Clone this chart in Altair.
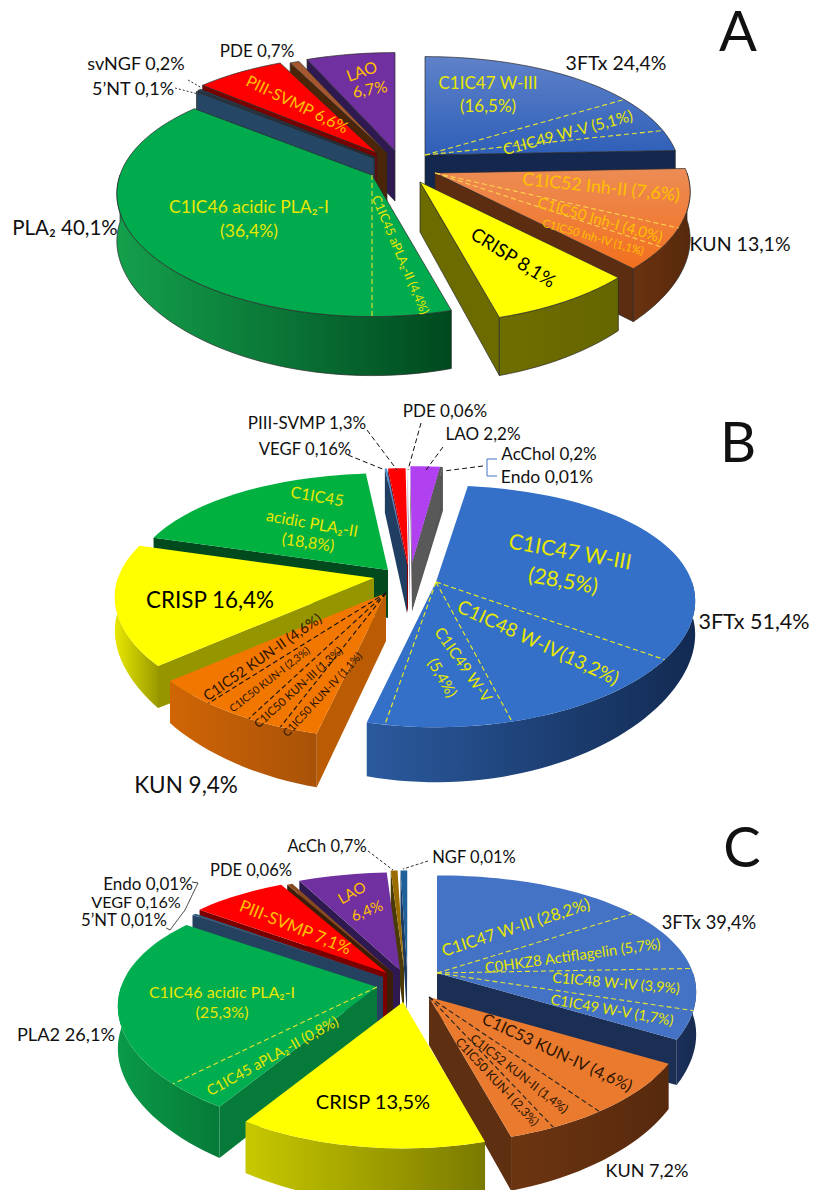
import math
import altair as alt
import pandas as pd

# ---- slice names and their shares (percent of the full turn)
A_NAMES = ["3FTx", "KUN", "CRISP", "PLA", "NT", "NGF", "PIII", "PDE", "LAO"]
A_SHARES = [[16.5, 5.1, 2.8], [7.6, 2.5, 3.0], [8.1], [4.4, 35.7], [0.1], [0.2], [6.6], [0.7], [6.7]]
B_NAMES = ["3FTx", "KUN", "CRISP", "PLA", "VEGF", "PIII", "PDE", "LAO", "ACH"]
B_SHARES = [[32.4, 11.1, 6.9, 1.0], [2.08, 1.94, 2.78, 3.3], [15.7], [18.8], [0.16], [1.3], [0.06], [2.2], [0.21]]
C_NAMES = ["3FTx", "KUN", "CRISP", "PLA", "NT", "PIII", "PDE", "LAO", "ACC", "NGF"]
C_SHARES = [[15.8, 8.6, 5.3, 3.6], [6.67, 3.05, 2.5], [13.6], [3.6, 22.0], [0.3], [7.0], [0.4], [6.6], [0.5], [0.5]]

# ---- layout
A_APEX = {"3FTx": (425, 155), "KUN": (435, 173), "CRISP": (420, 182), "PLA": (372, 175), "NT": (374, 158),
          "NGF": (375, 157), "PIII": (377, 153), "PDE": (387, 153), "LAO": (395, 151)}
B_APEX = {"3FTx": (436, 582), "KUN": (386, 593), "CRISP": (374, 578), "PLA": (388, 570), "VEGF": (407, 565),
          "PIII": (408, 565), "PDE": (410, 564), "LAO": (412, 563), "ACH": (412, 563)}
C_APEX = {"3FTx": (437, 973), "KUN": (429, 997), "CRISP": (403, 1002), "PLA": (377, 987), "NT": (383, 977),
          "PIII": (387, 973), "PDE": (393, 973), "LAO": (400, 970), "ACC": (404, 968), "NGF": (407, 968)}
A_ORDER = ["LAO", "PDE", "PIII", "NGF", "NT", "PLA", "3FTx", "KUN", "CRISP"]
B_ORDER = ["ACH", "LAO", "PDE", "PIII", "VEGF", "PLA", "CRISP", "KUN", "3FTx"]
C_ORDER = ["NGF", "ACC", "LAO", "PDE", "PIII", "NT", "PLA", "3FTx", "KUN", "CRISP"]

# start, R, Ry, kx, ky, D side, D front, D back, D apex, outline
A_SHAPE = (0.0, 252, 120, 0.16, 0.18, 47, 59, 50, 50, True)
B_SHAPE = (8.5, 256, 121, 0.16, 0.20, 33, 55, 44, 48, False)
C_SHAPE = (0.0, 256, 122, 0.16, 0.20, 42, 55, 45, 48, False)

def hgrad(a, b):
    return {"gradient": "linear", "x1": 0, "x2": 1, "y1": 0, "y2": 0,
            "stops": [{"offset": 0, "color": a}, {"offset": 1, "color": b}]}

def vgrad(a, b):
    return {"gradient": "linear", "x1": 0, "x2": 0, "y1": 0, "y2": 1,
            "stops": [{"offset": 0, "color": a}, {"offset": 1, "color": b}]}

# top, rim, cut face, divider colour
A_STYLE = {
    "3FTx": (vgrad("#5f82c9", "#2f5fb8"), hgrad("#1c3564", "#12264c"), "#14284f", "#e6e633"),
    "KUN": (vgrad("#ec8c55", "#f2701f"), hgrad("#6a3210", "#57290c"), "#5c2d10", "#ffd24d"),
    "CRISP": ("#ffff00", hgrad("#6e6e00", "#666600"), "#6b6b00", "#000000"),
    "PLA": ("#00ab4e", hgrad("#14a04c", "#00491f"), "#00491f", "#e6e633"),
    "NT": ("#2a4a6c", "#22405f", "#264665", "#000000"),
    "NGF": ("#2a4a6c", "#22405f", "#264665", "#000000"),
    "PIII": ("#ff0000", "#7a0000", "#7a0000", "#000000"),
    "PDE": ("#a5572f", "#4a2508", "#4a2508", "#000000"),
    "LAO": ("#7030a0", "#2e1a50", "#2e1a50", "#000000"),
}
B_STYLE = {
    "3FTx": ("#3470c8", hgrad("#2b5a9e", "#122a52"), "#1a3a6c", "#f0f020"),
    "KUN": ("#f27700", hgrad("#d06505", "#a85208"), "#bb5c05", "#111111"),
    "CRISP": ("#ffff00", hgrad("#e8e800", "#9a9a00"), "#959500", "#000000"),
    "PLA": ("#00b140", "#004a1d", "#004a1d", "#000000"),
    "VEGF": ("#4a90d0", "#1f3e62", "#1f3e62", "#000000"),
    "PIII": ("#ff0000", "#8a0000", "#8a0000", "#000000"),
    "PDE": ("#f4f4f4", "#b090c0", "#b090c0", "#000000"),
    "LAO": ("#b040f0", "#595959", "#595959", "#000000"),
    "ACH": ("#595959", "#555555", "#555555", "#000000"),
}
C_STYLE = {
    "3FTx": ("#4472c4", hgrad("#1b3059", "#182b50"), "#1b2f55", "#e6e633"),
    "KUN": ("#ea7a2e", hgrad("#6c3511", "#57290d"), "#5e2f10", "#222222"),
    "CRISP": ("#ffff00", hgrad("#c8c800", "#7a7a00"), "#909000", "#000000"),
    "PLA": ("#00ad4f", hgrad("#0a9a48", "#067a38"), "#067a38", "#e6e633"),
    "NT": ("#2f5f80", "#24425f", "#24425f", "#000000"),
    "PIII": ("#ff0000", "#7a0000", "#7a0000", "#000000"),
    "PDE": ("#8a4a20", "#3c1e08", "#3c1e08", "#000000"),
    "LAO": ("#7030a0", "#2e1a50", "#2e1a50", "#000000"),
    "ACC": ("#9a6c00", "#4a3a08", "#4a3a08", "#000000"),
    "NGF": ("#1f6098", "#1c3a60", "#1c3a60", "#000000"),
}

# ---- text: text, x, y, size, angle, colour
YEL = "#e8e800"
GLD = "#ffc000"
BLK = "#111111"
DRK = "#2a1400"
A_TEXT = [
    ("A", 738, 34, 56, 0, BLK), ("3FTx 24,4%", 616, 64, 19.5, 0, BLK), ("KUN 13,1%", 740, 245, 19.5, 0, BLK),
    ("PLA₂ 40,1%", 65, 229, 20.5, 0, BLK), ("svNGF 0,2%", 136, 65, 18, 0, BLK), ("5’NT 0,1%", 133, 90, 18, 0, BLK),
    ("PDE 0,7%", 257, 52, 17, 0, BLK), ("PIII-SVMP  6,6%", 297, 105, 16, 26, GLD), ("LAO", 362, 72, 16, -20, GLD),
    ("6,7%", 370, 90, 16, -10, GLD), ("C1IC46 acidic PLA₂-I", 249, 208, 17.5, 0, YEL), ("(36,4%)", 249, 232, 17.5, 0, YEL),
    ("C1IC45 aPLA₂-II (4,4%)", 400, 255, 12.6, 67, YEL), ("C1IC47 W-III", 488, 84, 17, 0, YEL), ("(16,5%)", 488, 107, 17, 0, YEL),
    ("C1IC49 W-V (5,1%)", 568, 133, 15.6, -15, YEL), ("C1IC52 Inh-II (7,6%)", 601, 188, 17.8, 6, GLD),
    ("C1IC50 Inh-I (4,0%)", 600, 220, 15, 16, GLD), ("C1IC50 Inh-IV (1,1%)", 593, 238, 11.3, 16, GLD),
    ("CRISP 8,1%", 513, 258, 18.7, 32, "#000000"),
]
B_TEXT = [
    ("B", 738, 445, 56, 0, BLK), ("PIII-SVMP 1,3%", 307, 424, 17, 0, BLK), ("VEGF 0,16%", 305, 450, 16.7, 0, BLK),
    ("PDE 0,06%", 445, 412, 17, 0, BLK), ("LAO 2,2%", 483, 435, 17, 0, BLK), ("AcChol 0,2%", 549, 455, 17, 0, BLK),
    ("Endo 0,01%", 547, 478, 17.5, 0, BLK), ("3FTx 51,4%", 754, 623, 21.5, 0, BLK), ("KUN 9,4%", 186, 786, 22.5, 0, BLK),
    ("CRISP 16,4%", 210, 601, 22.4, 0, "#000000"), ("C1IC45", 317, 497, 16, 10, YEL), ("acidic PLA₂-II", 312, 524, 16, 10, YEL),
    ("(18,8%)", 308, 543, 16, 8, YEL), ("C1IC47 W-III", 570, 553, 21.3, 10, YEL), ("(28,5%)", 563, 582, 21.3, 10, YEL),
    ("C1IC48 W-IV(13,2%)", 538, 643, 19, 25, YEL), ("C1IC49 W-V", 463, 665, 15.5, 55, YEL), ("(5,4%)", 442, 678, 15.5, 60, YEL),
    ("C1IC52 KUN-II (4,6%)", 263, 658, 14.5, -35, DRK), ("C1IC50 KUN-I (2,3%)", 270, 680, 10.5, -38, DRK),
    ("C1IC50 KUN-III (1,3%)", 299, 688, 11.5, -42, DRK), ("C1IC50 KUN-IV (1,1%)", 323, 695, 11, -47, DRK),
]
C_TEXT = [
    ("C", 742, 850, 56, 0, BLK), ("AcCh 0,7%", 327, 847, 16.5, 0, BLK), ("NGF 0,01%", 474, 858, 16.5, 0, BLK),
    ("PDE 0,06%", 251, 871, 16.5, 0, BLK), ("Endo 0,01%", 148, 885, 17, 0, BLK), ("VEGF 0,16%", 136, 903, 16.2, 0, BLK),
    ("5’NT 0,01%", 124, 921, 16.7, 0, BLK), ("3FTx 39,4%", 709, 924, 18.3, 0, BLK), ("PLA2 26,1%", 66, 1036, 18.2, 0, BLK),
    ("KUN 7,2%", 647, 1172, 18, 0, BLK), ("CRISP 13,5%", 373, 1103, 20, 0, "#000000"),
    ("PIII-SVMP  7,1%", 295, 928, 17, 22, GLD), ("LAO", 352, 893, 15, -30, GLD), ("6,4%", 367, 911, 15, -22, GLD),
    ("C1IC46 acidic PLA₂-I", 222, 993, 16, 0, YEL), ("(25,3%)", 222, 1013, 16, 0, YEL),
    ("C1IC45 aPLA₂-II (0,8%)", 273, 1057, 14.6, -29, YEL), ("C1IC47 W-III (28,2%)", 516, 928, 16.5, -18, YEL),
    ("C0HKZ8 Actiflagelin (5,7%)", 573, 957, 14.8, -8, YEL), ("C1IC48 W-IV (3,9%)", 616, 984, 14.4, 5, YEL),
    ("C1IC49 W-V (1,7%)", 612, 1011, 14.5, 10, YEL), ("C1IC53 KUN-IV (4,6%)", 557, 1053, 16.3, 25, DRK),
    ("C1IC52 KUN-II (1,4%)", 519, 1074, 12.4, 38, DRK), ("C1IC50 KUN-I (2,3%)", 497, 1082, 12.3, 47, DRK),
]

# leader lines and brackets: points, colour, dash
LEADERS = [
    ([(188, 80), (202, 88)], "#333333", [2, 2]), ([(175, 88), (202, 95)], "#333333", [2, 2]),
    ([(367, 430), (397, 470)], "#111111", [5, 3]), ([(348, 455), (385, 470)], "#111111", [5, 3]),
    ([(421, 423), (408, 470)], "#111111", [5, 3]), ([(443, 447), (426, 470)], "#111111", [5, 3]),
    ([(483, 466), (444, 471)], "#111111", [5, 3]),
    ([(497, 459), (487, 459), (487, 476), (497, 476)], "#4472c4", [1, 0]),
    ([(368, 851), (393, 870)], "#333333", [3, 2]), ([(428, 861), (403, 869)], "#333333", [3, 2]),
    ([(192, 882), (198, 883), (185, 910), (170, 930), (166, 928)], "#333333", [1, 0]),
]

X = alt.X("x:Q", scale=alt.Scale(domain=[8, 811], nice=False, zero=False), axis=None)
Y = alt.Y("y:Q", scale=alt.Scale(domain=[8, 1190], nice=False, zero=False, reverse=True), axis=None)
layers = []


def poly(points, fill, stroke=None):
    pts = list(points) + [points[0]]
    df = pd.DataFrame({"x": [p[0] for p in pts], "y": [p[1] for p in pts], "i": range(len(pts))})
    kw = {"fill": fill, "stroke": stroke or "transparent", "strokeWidth": 0.7 if stroke else 0}
    layers.append(alt.Chart(df).mark_line(interpolate="linear", **kw).encode(x=X, y=Y, order="i:Q"))


def polyline(points, color, dash, width=1.1):
    df = pd.DataFrame({"x": [p[0] for p in points], "y": [p[1] for p in points], "i": range(len(points))})
    layers.append(alt.Chart(df).mark_line(color=color, strokeDash=dash, strokeWidth=width).encode(x=X, y=Y, order="i:Q"))


def draw_pie(names, shares, apexes, order, shape, style):
    start, R, Ry, kx, ky, d0, df_, db, da, outline = shape
    line = "#2a2a2a" if outline else None

    def at(apex, deg, drop=False):
        t = math.radians(deg)
        u, v = math.sin(t), -math.cos(t)
        x = apex[0] + R * u * (1 + kx * v)
        y = apex[1] + Ry * v * (1 + ky * v)
        if drop:
            y += d0 + ((df_ if v > 0 else db) - d0) * v * v
        return (x, y)

    spans = {}
    a = start
    for n, s in zip(names, shares):
        sweep = [a]
        for part in s:
            a += part * 3.6
            sweep.append(a)
        spans[n] = sweep

    for n in order:
        sweep = spans[n]
        s, e = sweep[0], sweep[-1]
        ap = apexes[n]
        low = (ap[0], ap[1] + da)
        top, rim, face, div = style[n]
        if math.sin(math.radians(e)) > 0:
            poly([ap, at(ap, e), at(ap, e, True), low], face, line)
        if math.sin(math.radians(s)) < 0:
            poly([ap, at(ap, s), at(ap, s, True), low], face, line)
        lo, hi = max(s, 90), min(e, 270)
        if hi > lo:
            steps = max(2, int((hi - lo) / 2))
            degs = [lo + (hi - lo) * k / steps for k in range(steps + 1)]
            poly([at(ap, d) for d in degs] + [at(ap, d, True) for d in reversed(degs)], rim, line)
        steps = max(2, int((e - s) / 2))
        degs = [s + (e - s) * k / steps for k in range(steps + 1)]
        poly([ap] + [at(ap, d) for d in degs], top, line)
        for d in sweep[1:-1]:
            polyline([ap, at(ap, d)], div, [5, 3])


draw_pie(A_NAMES, A_SHARES, A_APEX, A_ORDER, A_SHAPE, A_STYLE)
draw_pie(B_NAMES, B_SHARES, B_APEX, B_ORDER, B_SHAPE, B_STYLE)
draw_pie(C_NAMES, C_SHARES, C_APEX, C_ORDER, C_SHAPE, C_STYLE)

for pts, col, dash in LEADERS:
    polyline(pts, col, dash, 1.0)

texts = pd.DataFrame(A_TEXT + B_TEXT + C_TEXT, columns=["t", "x", "y", "s", "a", "c"])
texts["a"] = texts["a"] % 360
layers.append(
    alt.Chart(texts).mark_text(font="Lato", align="center", baseline="middle").encode(
        x=X, y=Y, text="t:N",
        size=alt.Size("s:Q", scale=None),
        angle=alt.Angle("a:Q", scale=None),
        color=alt.Color("c:N", scale=None),
    )
)

chart = alt.layer(*layers).properties(
    width=803, height=1182, padding=0, autosize=alt.AutoSizeParams(type="none")
).configure_view(stroke=None)

chart.save("out.html", embed_options={"renderer": "svg", "actions": False})
